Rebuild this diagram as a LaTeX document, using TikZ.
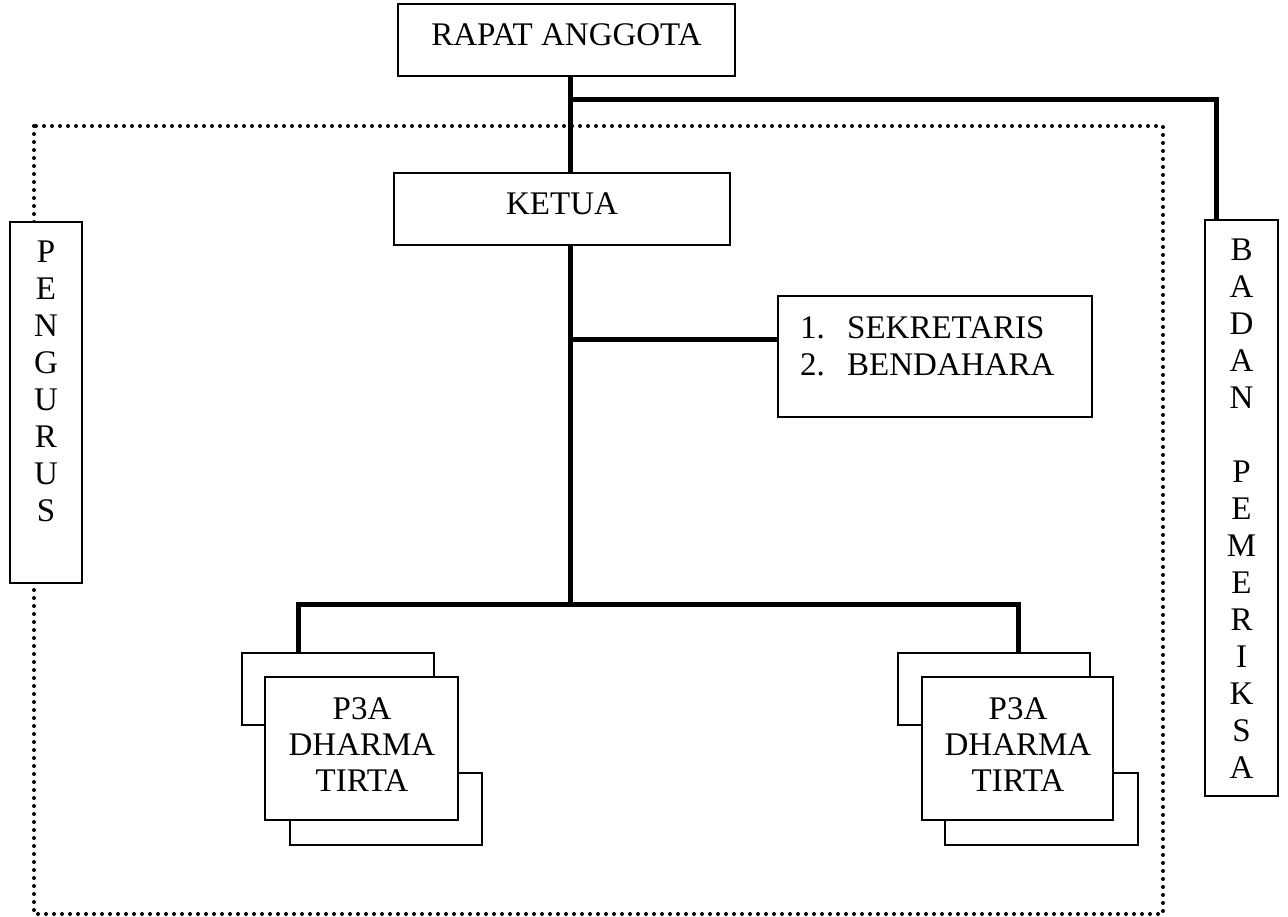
\documentclass[tikz,border=0pt]{standalone}
\usepackage{fontspec}
\setmainfont{Liberation Serif}
\begin{document}
\begin{tikzpicture}[x=1pt,y=-1pt,
  box/.style={draw, line width=1.8pt, fill=white, rectangle, inner sep=0pt, font=\fontsize{33}{37}\selectfont},
  lbl/.style={inner sep=0pt, font=\fontsize{33}{37}\selectfont, align=center},
  plbl/.style={inner sep=0pt, font=\fontsize{33}{36}\selectfont, align=center},
  conn/.style={line width=5pt},
  dotline/.style={line width=4pt, line cap=round, dash pattern=on 0pt off 8pt}]
\useasboundingbox (0,0) rectangle (1288,917);
% dotted PENGURUS frame
\draw[dotline] (34,126) rectangle (1163,914);
% main boxes
\node[box, minimum width=337, minimum height=72, text depth=11pt] (rapat) at (566.5,40) {RAPAT ANGGOTA};
\node[box, minimum width=336, minimum height=72, text depth=11pt] (ketua) at (562,209) {KETUA};
\node[box, minimum width=314, minimum height=121] (sek) at (935,356.5) {};
\node[lbl, anchor=base west] (sek1) at (800,338) {\makebox[47pt][l]{1.}SEKRETARIS};
\node[lbl, anchor=base west] (sek2) at (800,375) {\makebox[47pt][l]{2.}BENDAHARA};
% side boxes
\node[box, minimum width=72, minimum height=361] (pengurus) at (46,402.5) {};
\node[lbl, anchor=north] (pengurustxt) at (46,241) {P\\E\\N\\G\\U\\R\\U\\S};
\node[box, minimum width=73, minimum height=576] (badan) at (1241.5,508) {};
\node[lbl, anchor=north] (badantxt) at (1241.5,239) {B\\A\\D\\A\\N\\\mbox{}\\P\\E\\M\\E\\R\\I\\K\\S\\A};
% P3A left stack
\node[box, minimum width=192, minimum height=72] (backL) at (338,689) {};
\node[box, minimum width=192, minimum height=72] (thirdL) at (386,809) {};
\node[box, minimum width=193, minimum height=143] (frontL) at (361.5,748.5) {};
\node[plbl, anchor=north] (txtL) at (362,697) {P3A\\DHARMA\\TIRTA};
% P3A right stack
\node[box, minimum width=192, minimum height=72] (backR) at (994,689) {};
\node[box, minimum width=193, minimum height=72] (thirdR) at (1041.5,809) {};
\node[box, minimum width=191, minimum height=143] (frontR) at (1017.5,748.5) {};
\node[plbl, anchor=north] (txtR) at (1018,697) {P3A\\DHARMA\\TIRTA};
% junction coordinates
\coordinate (spine) at (570,100);
\coordinate (bjoin) at (1216,100);
\coordinate (sekj) at (570,340);
\coordinate (bar) at (570,604);
\coordinate (dropL) at (298,604);
\coordinate (dropR) at (1018,604);
% connectors
\draw[conn] (rapat.south -| spine) -- (ketua.north -| spine);
\draw[conn] (spine) -- (bjoin) -- (badan.north -| bjoin);
\draw[conn] (ketua.south -| spine) -- (bar);
\draw[conn] (sekj) -- (sek.west |- sekj);
\draw[conn] (backL.north -| dropL) -- (dropL) -- (dropR) -- (backR.north -| dropR);
\end{tikzpicture}
\end{document}
